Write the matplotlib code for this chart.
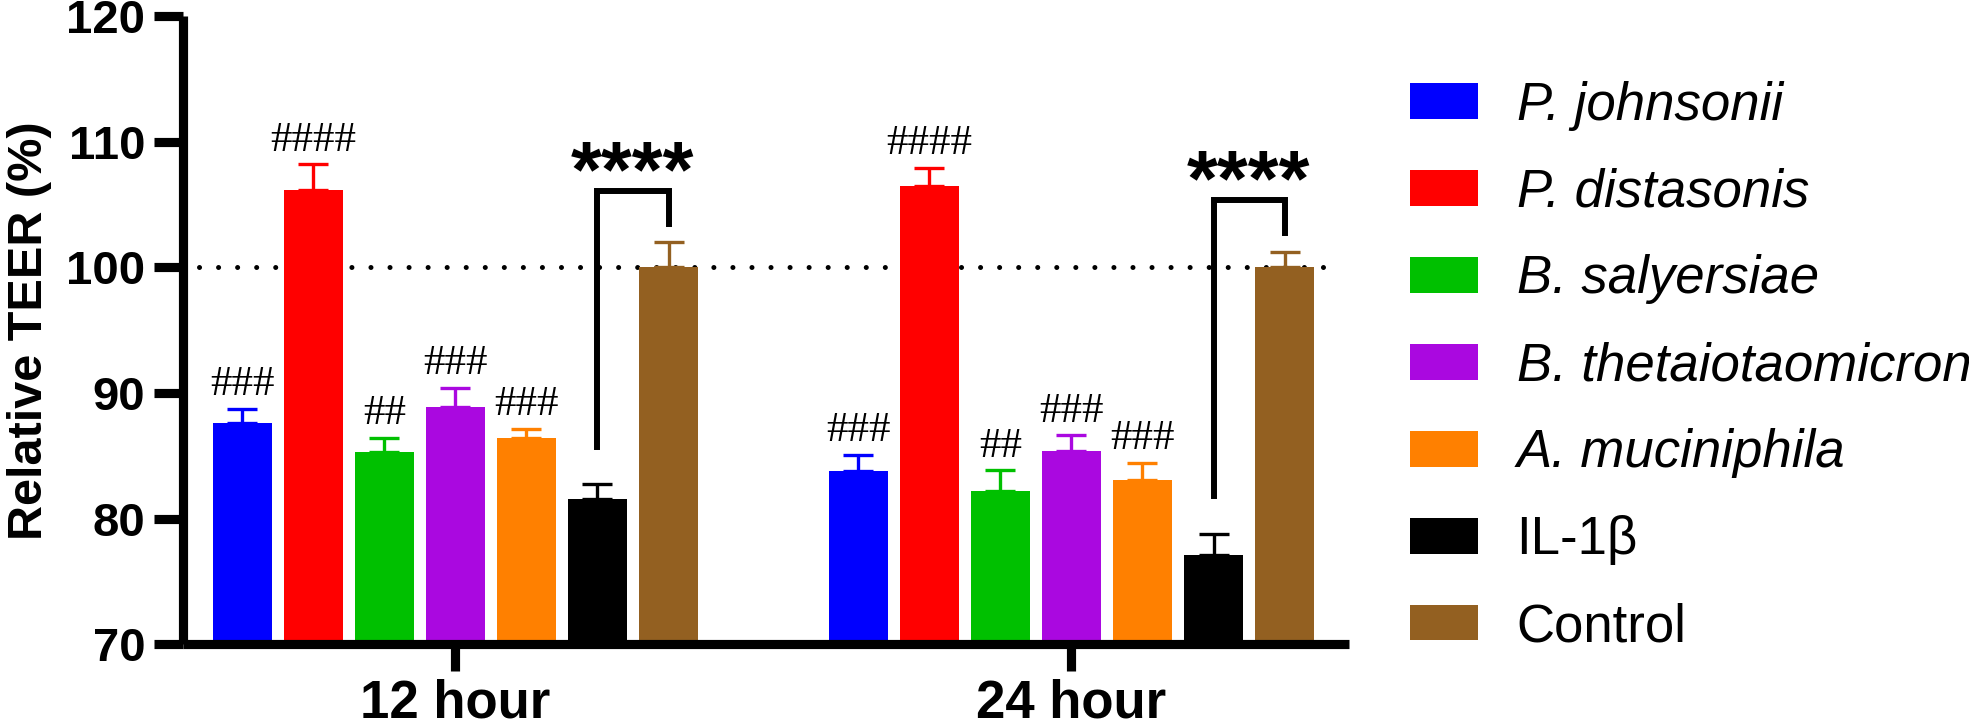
import numpy as np
import matplotlib
matplotlib.use('Agg')
import matplotlib.pyplot as plt
from matplotlib.patches import Patch

groups = ['12 hour', '24 hour']
labels = ['P. johnsonii', 'P. distasonis', 'B. salyersiae', 'B. thetaiotaomicron',
          'A. muciniphila', 'IL-1β', 'Control']
italic = [True, True, True, True, True, False, False]
colors = ['#0000FF', '#FF0000', '#00C000', '#AA08E0', '#FF8000', '#000000', '#936021']

# mean and SEM (upper) per strain, rows = groups
means = np.array([[87.6, 106.2, 85.3, 88.9, 86.4, 81.6, 100.0],
                  [83.8, 106.5, 82.2, 85.4, 83.1, 77.1, 100.0]])
errs = np.array([[1.15, 2.0, 1.15, 1.5, 0.75, 1.15, 2.0],
                 [1.3, 1.45, 1.65, 1.25, 1.35, 1.7, 1.25]])
hashes = [['###', '####', '##', '###', '###', '', ''],
          ['###', '####', '##', '###', '###', '', '']]
stars = ['****', '****']

plt.rcParams['font.family'] = 'Liberation Sans'

fig = plt.figure(figsize=(19.69, 7.27), dpi=100)
ax = fig.add_axes([0.0929, 0.1136, 0.5922, 0.8641])

step = 0.1153
width = 0.0958
centers = np.arange(len(groups))

ax.axhline(100, xmin=0.0137, xmax=0.989, color='black', lw=3.6,
           linestyle=(0, (0.01, 3.8)), dash_capstyle='round', zorder=1)

for g in range(len(groups)):
    xs = centers[g] + (np.arange(len(labels)) - 3) * step
    ax.bar(xs, means[g] - 70, width, bottom=70, color=colors, zorder=2)
    for i in range(len(labels)):
        ax.errorbar(xs[i], means[g, i], yerr=[[0], [errs[g, i]]], fmt='none',
                    ecolor=colors[i], elinewidth=2.4, capsize=10.5, capthick=2.4, zorder=1.5)
        if hashes[g][i]:
            ax.text(xs[i], means[g, i] + errs[g, i] + 1.9, hashes[g][i], ha='center', va='center',
                    fontsize=31, family='Liberation Serif')
    # significance bracket IL-1b vs Control
    top = means[g, 6] + errs[g, 6] + 4.1
    xl, xr = xs[5], xs[6]
    ax.plot([xl, xl, xr, xr],
            [means[g, 5] + errs[g, 5] + 3.0, top, top, top - 2.6],
            color='black', lw=4.3, solid_joinstyle='miter', zorder=3, clip_on=False)
    ax.text((xl + xr) / 2, top - 0.4, stars[g], ha='center', va='baseline',
            fontsize=57, fontweight='bold')

ax.set_xlim(-0.4424, 1.4505)
ax.set_ylim(70, 120)
ax.set_yticks(np.arange(70, 121, 10))
ax.set_xticks(centers)
ax.set_xticklabels(groups, fontsize=38, fontweight='bold')
for t in ax.get_yticklabels():
    t.set_fontsize(34)
    t.set_fontweight('bold')
ax.set_ylabel('Relative TEER (%)', fontsize=35, fontweight='bold', labelpad=10)
ax.spines['top'].set_visible(False)
ax.spines['right'].set_visible(False)
for s in ['left', 'bottom']:
    ax.spines[s].set_linewidth(6.6)
    ax.spines[s].set_capstyle('butt')
ax.tick_params(axis='y', length=21, width=6.6, pad=6)
ax.tick_params(axis='x', length=19.5, width=6.6, pad=5)

handles = [Patch(facecolor=c, edgecolor='none') for c in colors]
leg = fig.legend(handles, labels, loc='upper left', bbox_to_anchor=(0.7161, 0.8892),
                 frameon=False, fontsize=38, borderpad=0, borderaxespad=0,
                 handlelength=1.28, handleheight=0.66, handletextpad=0.74, labelspacing=0.70)
for t, it in zip(leg.get_texts(), italic):
    if it:
        t.set_style('italic')

fig.savefig('out.png', dpi=100)
